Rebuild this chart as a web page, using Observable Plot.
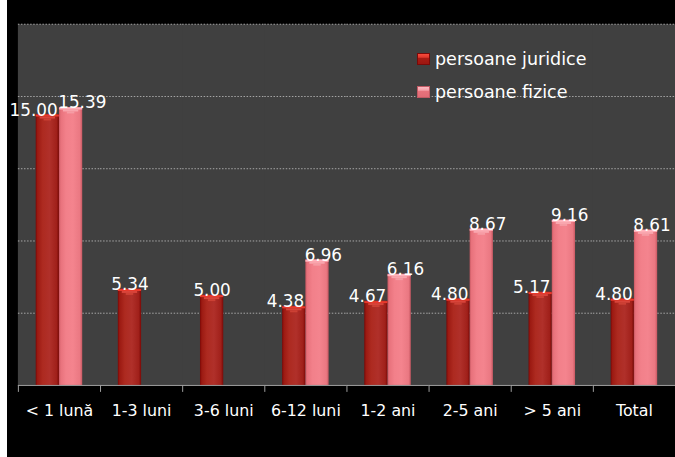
<!DOCTYPE html>
<html>
<head>
<meta charset="utf-8">
<script src="https://cdn.jsdelivr.net/npm/d3@7"></script>
<script src="https://cdn.jsdelivr.net/npm/@observablehq/plot@0.6"></script>
<style>
  html, body { margin: 0; padding: 0; background: #ffffff; overflow: hidden; }
  #wrap { position: absolute; left: 7px; top: 0; width: 668px; height: 457px; background: #000; overflow: hidden; }
  #legend { position: absolute; left: 410px; top: 48px; font-family: "DejaVu Sans", sans-serif; font-size: 17.5px; color: #fff; }
  .item { display: flex; align-items: center; height: 22px; margin-bottom: 11px; }
  .sw { width: 13px; height: 12px; margin-right: 5px; }
  .sw.r { background: linear-gradient(to bottom, #ff5040 0, #e0382c 35%, #a81c14 45%, #9a1510 100%); box-shadow: inset 0 0 0 1px #7a0a08; }
  .sw.p { background: linear-gradient(to bottom, #ffc4cc 0, #f6a0a8 35%, #e8727c 45%, #e06a74 100%); box-shadow: inset 0 0 0 1px #c05a64; }
</style>
</head>
<body>
<div id="wrap"></div>
<script>
const categories = ["< 1 lună", "1-3 luni", "3-6 luni", "6-12 luni", "1-2 ani", "2-5 ani", "> 5 ani", "Total"];
const juridice = [15.00, 5.34, 5.00, 4.38, 4.67, 4.80, 5.17, 4.80];
const fizice = [15.39, null, null, 6.96, 6.16, 8.67, 9.16, 8.61];
const seriesNames = ["persoane juridice", "persoane fizice"];
const gridTicks = [4, 8, 12, 16, 20];

const red = categories.map((c, i) => ({cat: c, s: seriesNames[0], v: juridice[i], paired: fizice[i] != null}));
const pink = categories.map((c, i) => ({cat: c, s: seriesNames[1], v: fizice[i]})).filter(d => d.v != null);

const fmt = d => d.v.toFixed(2);
const labelFont = {fill: "white", fontSize: 17, fontFamily: "DejaVu Sans", lineAnchor: "bottom", dy: 1};

function capMarks(data, c1, c2, c3) {
  return [
    Plot.tickY(data, {fx: "cat", x: "s", y: "v", stroke: c1, strokeWidth: 2, dy: 1}),
    Plot.tickY(data, {fx: "cat", x: "s", y: "v", stroke: c2, strokeWidth: 2, dy: 3, insetLeft: 4, insetRight: 4}),
    Plot.tickY(data, {fx: "cat", x: "s", y: "v", stroke: c3, strokeWidth: 2, dy: 5, insetLeft: 8, insetRight: 8})
  ];
}

const chart = Plot.plot({
  width: 675,
  height: 457,
  marginLeft: 11,
  marginRight: 7,
  marginTop: 24,
  marginBottom: 68,
  style: {background: "black", color: "white", fontFamily: "DejaVu Sans", overflow: "visible"},
  fx: {domain: categories, padding: 0, label: null, axis: null, range: [11, 675]},
  x: {domain: seriesNames, paddingInner: 0, paddingOuter: 0.766, axis: null, round: false},
  y: {domain: [0, 20], axis: null},
  marks: [
    Plot.frame({fill: "#404040", stroke: "none", insetLeft: -0.5, insetRight: -0.5}),
    Plot.gridY(gridTicks, {stroke: "#a8a8a8", strokeOpacity: 1, strokeDasharray: "1.5,1.6"}),
    Plot.barY(red, {fx: "cat", x: "s", y: "v", fill: "url(#gradRed)"}),
    Plot.barY(pink, {fx: "cat", x: "s", y: "v", fill: "url(#gradPink)"}),
    ...capMarks(red, "#e8392c", "#d8443a", "#cc4034"),
    ...capMarks(pink, "#ffb4bc", "#f9a6ae", "#f59ca4"),
    Plot.ruleY([0], {stroke: "#a0a0a0"}),
    Plot.axisFx({anchor: "bottom", tickSize: 7, tickFormat: () => "", stroke: "#a0a0a0", dx: -41.5}),
    Plot.axisFx({anchor: "bottom", tickSize: 0, tickPadding: 20, fontSize: 16, fill: "white", fontFamily: "DejaVu Sans"}),
    Plot.text(red.filter(d => d.paired), {fx: "cat", x: "s", y: "v", text: fmt, textAnchor: "end", dx: 10, ...labelFont}),
    Plot.text(red.filter(d => !d.paired), {fx: "cat", x: "s", y: "v", text: fmt, ...labelFont}),
    Plot.text(pink, {fx: "cat", x: "s", y: "v", text: fmt, textAnchor: "start", dx: -13, ...labelFont})
  ]
});

const defs = d3.select(chart).insert("defs", ":first-child");
function grad(id, stops) {
  const g = defs.append("linearGradient").attr("id", id).attr("x1", 0).attr("x2", 1).attr("y1", 0).attr("y2", 0);
  stops.forEach(([o, c]) => g.append("stop").attr("offset", o).attr("stop-color", c));
}
grad("gradRed", [[0, "#7a0806"], [0.08, "#9c1a12"], [0.3, "#ad2a20"], [0.6, "#b0302a"], [0.9, "#a0201a"], [1, "#7a0806"]]);
grad("gradPink", [[0, "#c85862"], [0.08, "#e8727c"], [0.3, "#f2808a"], [0.6, "#f4848e"], [0.9, "#ea7882"], [1, "#c85862"]]);

document.getElementById("wrap").appendChild(chart);

const legend = document.createElement("div");
legend.id = "legend";
legend.innerHTML = seriesNames.map((n, i) =>
  `<div class="item"><div class="sw ${i === 0 ? "r" : "p"}"></div><span>${n}</span></div>`).join("");
document.getElementById("wrap").appendChild(legend);
</script>
</body>
</html>
